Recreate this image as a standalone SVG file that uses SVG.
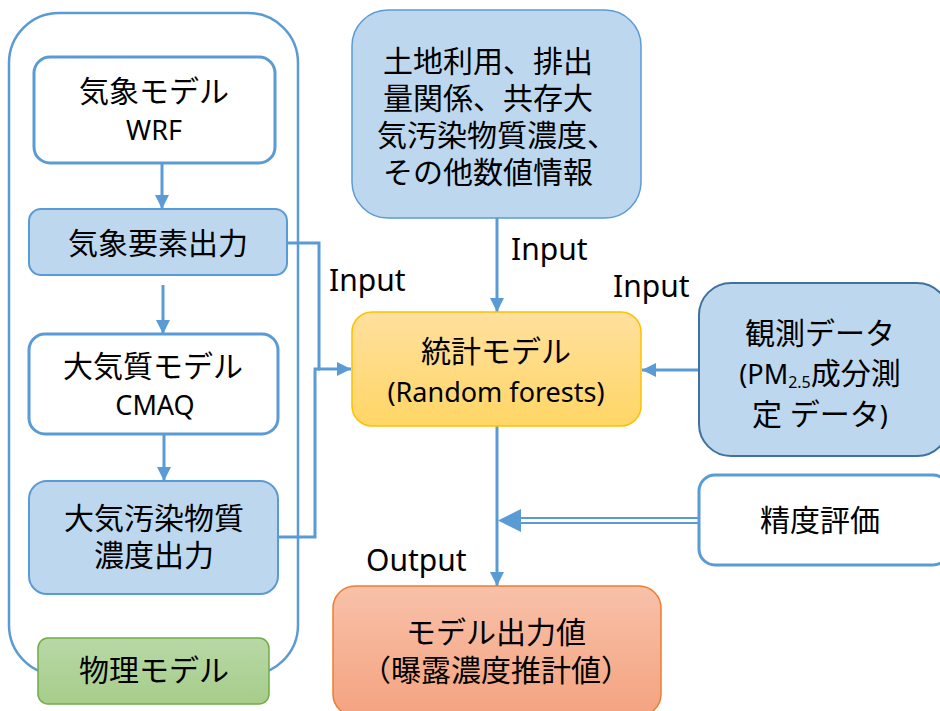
<svg xmlns="http://www.w3.org/2000/svg" width="940" height="711" viewBox="0 0 940 711">
<style>
text{font-family:"Noto Sans","Noto Sans CJK JP",sans-serif;fill:#000;text-anchor:middle}
.jp{font-size:30px}
.lt{font-size:27px}
.lbl{font-size:30px;text-anchor:start}
.wbox{fill:#fff;stroke:#5b9bd5;stroke-width:3}
.bbox{fill:#bdd7ee;stroke:#5b9bd5;stroke-width:2}
.con{fill:none;stroke:#5b9bd5;stroke-width:3}
</style>
<defs>
<marker id="ah" markerUnits="userSpaceOnUse" markerWidth="16" markerHeight="14" refX="14" refY="7" orient="auto">
<path d="M0,0 L14,7 L0,14 Z" fill="#5b9bd5"/>
</marker>
<linearGradient id="gy" x1="0" y1="0" x2="0" y2="1"><stop offset="0" stop-color="#ffe09e"/><stop offset="1" stop-color="#ffd666"/></linearGradient>
<linearGradient id="go" x1="0" y1="0" x2="0" y2="1"><stop offset="0" stop-color="#f8c1a9"/><stop offset="1" stop-color="#f4a380"/></linearGradient>
<linearGradient id="gg" x1="0" y1="0" x2="0" y2="1"><stop offset="0" stop-color="#b8d8a6"/><stop offset="1" stop-color="#a6cd8a"/></linearGradient>
</defs>

<g id="physical-container">
<rect x="9" y="13" width="289" height="662" rx="50" fill="none" stroke="#5b9bd5" stroke-width="2.5"/>
</g>

<g id="connectors">
<line class="con" x1="162" y1="163" x2="162" y2="209" marker-end="url(#ah)"/>
<line class="con" x1="163" y1="285" x2="163" y2="334" marker-end="url(#ah)"/>
<line class="con" x1="164" y1="434" x2="164" y2="481" marker-end="url(#ah)"/>
<path class="con" d="M287,243 H319 V369 H351" marker-end="url(#ah)"/>
<path class="con" d="M278,537 H315 V369 H320"/>
<line class="con" x1="497" y1="218" x2="497" y2="312" marker-end="url(#ah)"/>
<line class="con" x1="699" y1="370" x2="642" y2="370" marker-end="url(#ah)"/>
<line class="con" x1="497" y1="426" x2="497" y2="586" marker-end="url(#ah)"/>
<line x1="699" y1="518" x2="518" y2="518" stroke="#5b9bd5" stroke-width="2"/>
<line x1="699" y1="523" x2="518" y2="523" stroke="#5b9bd5" stroke-width="2"/>
<path d="M498,520.5 L521,509 L521,532 Z" fill="#5b9bd5"/>
</g>

<g id="label-input-left"><text class="lbl" x="329" y="291">Input</text></g>
<g id="label-input-mid"><text class="lbl" x="511" y="260">Input</text></g>
<g id="label-input-right"><text class="lbl" x="613" y="297">Input</text></g>
<g id="label-output"><text class="lbl" x="366" y="571">Output</text></g>

<g id="node-weather-model">
<rect class="wbox" x="34" y="57" width="241" height="106" rx="16"/>
<text class="jp" x="154" y="102">気象モデル</text>
<text class="lt" x="154" y="140">WRF</text>
</g>

<g id="node-weather-output">
<rect class="bbox" x="29" y="209" width="258" height="66" rx="12"/>
<text class="jp" x="158" y="254">気象要素出力</text>
</g>

<g id="node-aq-model">
<rect class="wbox" x="29" y="334" width="249" height="100" rx="16"/>
<text class="jp" x="153" y="377">大気質モデル</text>
<text class="lt" x="155" y="415">CMAQ</text>
</g>

<g id="node-pollutant-output">
<rect class="bbox" x="29" y="481" width="249" height="113" rx="18"/>
<text class="jp" x="154" y="529">大気汚染物質</text>
<text class="jp" x="154" y="566">濃度出力</text>
</g>

<g id="node-physical-model">
<rect x="38" y="638" width="231" height="66" rx="10" fill="url(#gg)" stroke="#70ad47" stroke-width="1.5"/>
<text class="jp" x="154" y="681">物理モデル</text>
</g>

<g id="node-other-data">
<rect x="352" y="10" width="289" height="208" rx="36" fill="#bdd7ee" stroke="#5b9bd5" stroke-width="1.5"/>
<text class="jp" x="488" y="72">土地利用、排出</text>
<text class="jp" x="488" y="109">量関係、共存大</text>
<text class="jp" x="497" y="146">気汚染物質濃度、</text>
<text class="jp" x="488" y="183">その他数値情報</text>
</g>

<g id="node-stat-model">
<rect x="352" y="312" width="289" height="114" rx="20" fill="url(#gy)" stroke="#ffc000" stroke-width="1.5"/>
<text class="jp" x="496" y="362">統計モデル</text>
<text class="lt" x="496" y="402">(Random forests)</text>
</g>

<g id="node-observation">
<rect x="699" y="283" width="250" height="173" rx="32" fill="#bdd7ee" stroke="#41719c" stroke-width="2"/>
<text class="jp" x="820" y="344">観測データ</text>
<text class="jp" x="820" y="384"><tspan font-size="27">(PM</tspan><tspan font-size="16" dy="4">2.5</tspan><tspan dy="-4">成分測</tspan></text>
<text class="jp" x="820" y="425">定 データ<tspan font-size="27">)</tspan></text>
</g>

<g id="node-accuracy">
<rect class="wbox" x="699" y="475" width="250" height="90" rx="16" stroke-width="2.5"/>
<text class="jp" x="820" y="531">精度評価</text>
</g>

<g id="node-model-output">
<rect x="333" y="586" width="328" height="130" rx="22" fill="url(#go)" stroke="#ed7d31" stroke-width="1.5"/>
<text class="jp" x="496" y="643">モデル出力値</text>
<text class="jp" x="496" y="681">（曝露濃度推計値）</text>
</g>
</svg>
